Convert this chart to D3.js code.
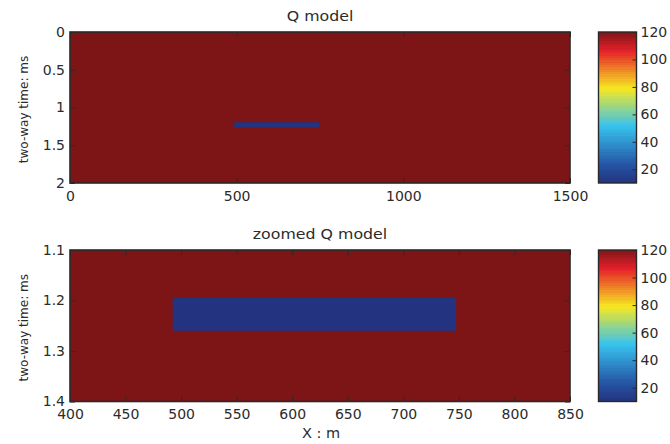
<!DOCTYPE html>
<html>
<head>
<meta charset="utf-8">
<script src="https://cdn.jsdelivr.net/npm/d3@7"></script>
<style>
  html, body { margin: 0; padding: 0; background: #fff; }
  svg { display: block; }
  text { font-family: "DejaVu Sans", Verdana, sans-serif; fill: #2b2b2b; }
</style>
</head>
<body>
<svg id="fig" width="670" height="444"></svg>
<script>
// Q model: homogeneous background with one low-Q layer
const backgroundQ = 120;
const layerQ = 10;
const layerX = [492.5, 747.5];      // m
const layerT = [1.195, 1.26];       // ms

// Colour range of the Q colormap
const qDomain = [10, 120];
const qTicks = [20, 40, 60, 80, 100, 120];

// Panel extents and tick labels
const fullX = [0, 1500];
const fullT = [0, 2];
const fullXTicks = [0, 500, 1000, 1500];
const fullTTicks = [0, 0.5, 1, 1.5, 2];

const zoomX = [400, 850];
const zoomT = [1.1, 1.4];
const zoomXTicks = [400, 450, 500, 550, 600, 650, 700, 750, 800, 850];
const zoomTTicks = [1.1, 1.2, 1.3, 1.4];

// Jet-like colormap stops
const jetStops = [
  [0.000, "#23337f"],
  [0.125, "#2556a6"],
  [0.375, "#38c2ee"],
  [0.625, "#f6e823"],
  [0.875, "#e6202a"],
  [1.000, "#7d1517"]
];
const jet = d3.scaleLinear()
  .domain(jetStops.map(s => qDomain[0] + s[0] * (qDomain[1] - qDomain[0])))
  .range(jetStops.map(s => s[1]))
  .interpolate(d3.interpolateRgb)
  .clamp(true);

const svg = d3.select("#fig");
const defs = svg.append("defs");

const panels = [
  { id: "full", title: "Q model", top: 32, bottom: 183, xd: fullX, td: fullT,
    xt: fullXTicks, tt: fullTTicks, xlabel: null, tfmt: d3.format("") },
  { id: "zoom", title: "zoomed Q model", top: 250, bottom: 401.5, xd: zoomX, td: zoomT,
    xt: zoomXTicks, tt: zoomTTicks, xlabel: "X : m", tfmt: d3.format(".1f") }
];
const left = 70, right = 570;
const cbLeft = 598.5, cbRight = 636.5;
const tickLen = 5;
const frameColor = "#2a2a2a";
const tickFont = 14;

// Colorbar gradient, 64 discrete colour steps
const grad = defs.append("linearGradient")
  .attr("id", "jetGrad").attr("x1", 0).attr("y1", 1).attr("x2", 0).attr("y2", 0);
const nSteps = 64;
d3.range(nSteps).forEach(i => {
  const c = jet(qDomain[0] + (i + 0.5) / nSteps * (qDomain[1] - qDomain[0]));
  grad.append("stop").attr("offset", i / nSteps).attr("stop-color", c);
  grad.append("stop").attr("offset", (i + 1) / nSteps).attr("stop-color", c);
});

const styleAxis = sel => {
  sel.attr("font-family", null).attr("font-size", null);
  sel.select(".domain").remove();
  sel.selectAll(".tick line").attr("stroke", frameColor).attr("stroke-width", 1);
  sel.selectAll(".tick text").attr("font-size", tickFont).attr("fill", "#2b2b2b");
};

panels.forEach(p => {
  const x = d3.scaleLinear().domain(p.xd).range([left, right]);
  const y = d3.scaleLinear().domain(p.td).range([p.top, p.bottom]);
  const g = svg.append("g");

  defs.append("clipPath").attr("id", "clip-" + p.id)
    .append("rect").attr("x", left).attr("y", p.top)
    .attr("width", right - left).attr("height", p.bottom - p.top);

  const plot = g.append("g").attr("clip-path", `url(#clip-${p.id})`);
  plot.append("rect")
    .attr("x", x(p.xd[0])).attr("y", y(p.td[0]))
    .attr("width", x(p.xd[1]) - x(p.xd[0])).attr("height", y(p.td[1]) - y(p.td[0]))
    .attr("fill", jet(backgroundQ));
  plot.append("rect")
    .attr("x", x(layerX[0])).attr("y", y(layerT[0]))
    .attr("width", x(layerX[1]) - x(layerX[0])).attr("height", y(layerT[1]) - y(layerT[0]))
    .attr("fill", jet(layerQ));

  // Axes: bottom / left with labels, top / right mirrored tick marks only
  const axB = d3.axisBottom(x).tickValues(p.xt).tickSize(-tickLen).tickPadding(8).tickFormat(d3.format(""));
  const axT = d3.axisTop(x).tickValues(p.xt).tickSize(-tickLen).tickFormat("");
  const axL = d3.axisLeft(y).tickValues(p.tt).tickSize(-tickLen).tickPadding(5).tickFormat(p.tfmt);
  const axR = d3.axisRight(y).tickValues(p.tt).tickSize(-tickLen).tickFormat("");

  g.append("g").attr("transform", `translate(0,${p.bottom})`).call(axB).call(styleAxis);
  g.append("g").attr("transform", `translate(0,${p.top})`).call(axT).call(styleAxis);
  g.append("g").attr("transform", `translate(${left},0)`).call(axL).call(styleAxis);
  g.append("g").attr("transform", `translate(${right},0)`).call(axR).call(styleAxis);

  g.append("rect").attr("x", left).attr("y", p.top)
    .attr("width", right - left).attr("height", p.bottom - p.top)
    .attr("fill", "none").attr("stroke", frameColor).attr("stroke-width", 1.6);

  // Title (slightly widened lettering)
  g.append("text")
    .attr("transform", `translate(${(left + right) / 2},${p.top - 11}) scale(1.17,1)`)
    .attr("text-anchor", "middle").attr("font-size", 13.5).text(p.title);

  // Y label
  g.append("text")
    .attr("transform", `translate(28,${(p.top + p.bottom) / 2 + 2}) rotate(-90)`)
    .attr("text-anchor", "middle").attr("font-size", 12).text("two-way time: ms");

  if (p.xlabel) {
    g.append("text").attr("x", (left + right) / 2 + 1).attr("y", p.bottom + 36.5)
      .attr("text-anchor", "middle").attr("font-size", 14.5).text(p.xlabel);
  }

  // Colorbar
  const cy = d3.scaleLinear().domain(qDomain).range([p.bottom, p.top]);
  const cb = svg.append("g");
  cb.append("rect").attr("x", cbLeft).attr("y", p.top)
    .attr("width", cbRight - cbLeft).attr("height", p.bottom - p.top)
    .attr("fill", "url(#jetGrad)");
  const axC = d3.axisRight(cy).tickValues(qTicks).tickSize(-4).tickPadding(4).tickFormat(d3.format(""));
  cb.append("g").attr("transform", `translate(${cbRight},0)`).call(axC).call(styleAxis);
  cb.append("rect").attr("x", cbLeft).attr("y", p.top)
    .attr("width", cbRight - cbLeft).attr("height", p.bottom - p.top)
    .attr("fill", "none").attr("stroke", frameColor).attr("stroke-width", 1.4);
});
</script>
</body>
</html>
